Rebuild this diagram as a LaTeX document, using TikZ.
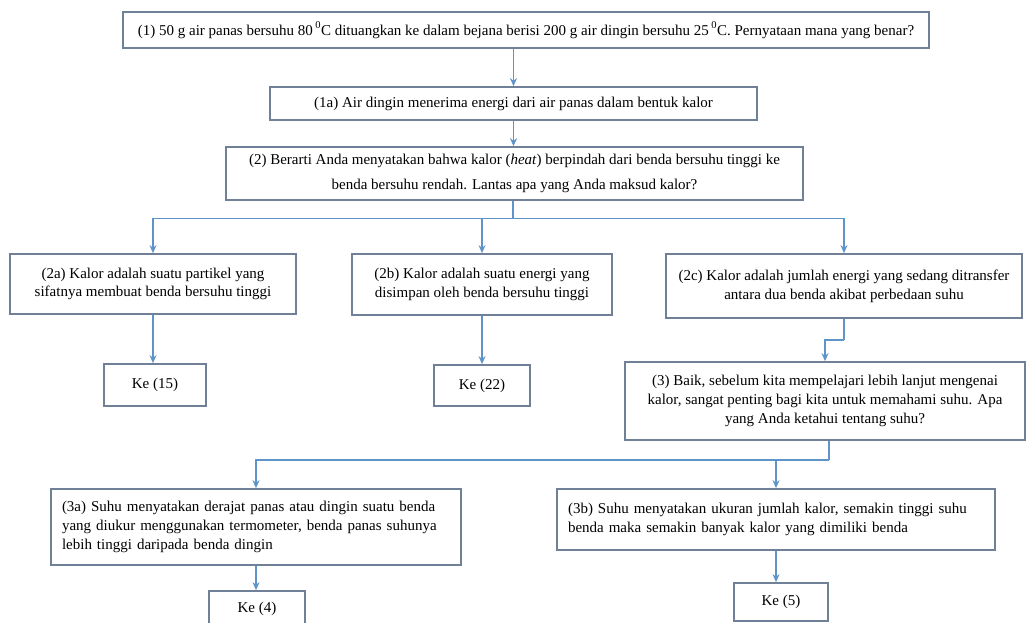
\documentclass[tikz,border=0pt]{standalone}
\usepackage{fontspec}
\setmainfont{Liberation Serif}
\usetikzlibrary{arrows.meta}
\definecolor{boxc}{RGB}{112,128,150}
\definecolor{arrc}{RGB}{95,148,200}
\tikzset{
  box/.style={draw=boxc, line width=1.7pt, fill=white, inner sep=0pt, align=center,
    font=\fontsize{15}{18.7}\selectfont},
  arr/.style={draw=arrc, line width=1.6pt, -{Stealth[length=8pt,width=7pt]}},
  ln/.style={draw=arrc, line width=1.6pt},
}
\begin{document}
\begin{tikzpicture}[x=1pt,y=-1pt]
\useasboundingbox (0,0) rectangle (1028,622);
\node[box, minimum width=806pt, minimum height=36pt] (n1) at (526,30)
  {(1) 50 g air panas bersuhu 80\,\raisebox{1.5pt}{\textsuperscript{0}}C dituangkan ke dalam bejana berisi 200 g air dingin bersuhu 25\,\raisebox{1.5pt}{\textsuperscript{0}}C. Pernyataan mana yang benar?};
\node[box, minimum width=487pt, minimum height=33pt] (n1a) at (513.5,103.5)
  {(1a) Air dingin menerima energi dari air panas dalam bentuk kalor};
\node[box, minimum width=577pt, minimum height=53pt, font=\fontsize{15}{25}\selectfont] (n2) at (514.5,173.5)
  {(2) Berarti Anda menyatakan bahwa kalor (\textit{heat}) berpindah dari benda bersuhu tinggi ke\\ benda bersuhu rendah. Lantas apa yang Anda maksud kalor?};
\node[box, minimum width=286pt, minimum height=60pt] (n2a) at (153,284)
  {(2a) Kalor adalah suatu partikel yang\\ sifatnya membuat benda bersuhu tinggi};
\node[box, minimum width=260pt, minimum height=61pt] (n2b) at (482,284.5)
  {(2b) Kalor adalah suatu energi yang\\ disimpan oleh benda bersuhu tinggi};
\node[box, minimum width=356pt, minimum height=64pt] (n2c) at (844,286)
  {(2c) Kalor adalah jumlah energi yang sedang ditransfer\\ antara dua benda akibat perbedaan suhu};
\node[box, minimum width=102pt, minimum height=42pt] (k15) at (155,385) {Ke (15)};
\node[box, minimum width=96pt, minimum height=41pt] (k22) at (482,385.5) {Ke (22)};
\node[box, minimum width=400pt, minimum height=78pt] (n3) at (825,401)
  {(3) Baik, sebelum kita mempelajari lebih lanjut mengenai\\ kalor, sangat penting bagi kita untuk memahami suhu. Apa\\ yang Anda ketahui tentang suhu?};
\node[box, minimum width=410pt, minimum height=76pt, align=left, text width=388pt] (n3a) at (256,527)
  {(3a) Suhu menyatakan derajat panas atau dingin suatu benda\\ yang diukur menggunakan termometer, benda panas suhunya\\ lebih tinggi daripada benda dingin};
\node[box, minimum width=438pt, minimum height=61pt, align=left, text width=416pt] (n3b) at (776,519.5)
  {(3b) Suhu menyatakan ukuran jumlah kalor, semakin tinggi suhu\\ benda maka semakin banyak kalor yang dimiliki benda};
\node[box, minimum width=96pt, minimum height=39pt] (k4) at (257,610.5) {\raisebox{0pt}[0pt][0pt]{\lower2pt\hbox{Ke (4)}}};
\node[box, minimum width=94pt, minimum height=38pt] (k5) at (781,602) {Ke (5)};
% connectors
\draw[arr] (n1a.north |- n1.south) -- (n1a.north);
\draw[arr] (n1a.south) -- (n2.north -| n1a.south);
\coordinate (s2) at (513,218.5);
\draw[ln] (n2.south -| s2) -- (s2);
\draw[arr] (s2) -| (n2a.north);
\draw[arr] (s2) -| (n2b.north);
\draw[arr] (s2) -| (n2c.north);
\draw[arr] (n2a.south) -- (k15.north -| n2a.south);
\draw[arr] (n2b.south) -- (k22.north);
\coordinate (s2c) at (844,340);
\draw[ln] (n2c.south) -- (s2c);
\draw[arr] (s2c) -| (n3.north);
\coordinate (s3) at (829,460);
\draw[ln] (n3.south -| s3) -- (s3);
\draw[arr] (s3) -| (n3a.north);
\draw[arr] (s3) -| (n3b.north);
\draw[arr] (n3a.south) -- (k4.north -| n3a.south);
\draw[arr] (n3b.south) -- (k5.north -| n3b.south);
\end{tikzpicture}
\end{document}
